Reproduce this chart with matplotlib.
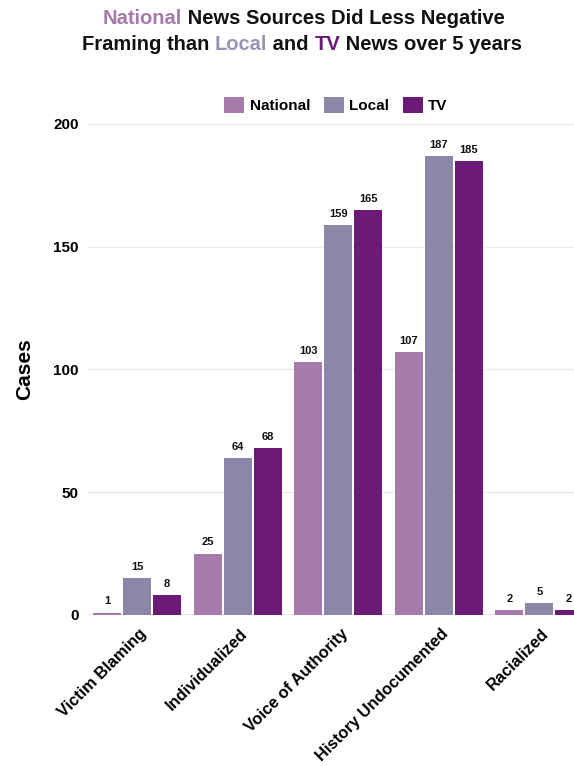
import matplotlib
matplotlib.use("Agg")
import matplotlib.pyplot as plt
import numpy as np

plt.rcParams['font.family'] = ['Liberation Sans', 'DejaVu Sans']

categories = ["Victim Blaming", "Individualized", "Voice of Authority",
              "History Undocumented", "Racialized"]
series_names = ["National", "Local", "TV"]
national = [1, 25, 103, 107, 2]
local = [15, 64, 159, 187, 5]
tv = [8, 68, 165, 185, 2]
yticks = [0, 50, 100, 150, 200]

colors = ["#a67bab", "#8c87a8", "#6b1a75"]
title_gray = "#9a94b4"

fig = plt.figure(figsize=(5.74, 7.66), dpi=100)
W, H = 574, 766
ax = fig.add_axes([87 / W, 151 / H, 502.5 / W, 491 / H])

x = np.arange(len(categories))
step = 0.2985
bw = 0.279
for i, (vals, col, name) in enumerate(zip([national, local, tv], colors, series_names)):
    pos = x + (i - 1) * step
    bars = ax.bar(pos, vals, width=bw, color=col, label=name, zorder=3)
    for b, v in zip(bars, vals):
        ax.text(b.get_x() + b.get_width() / 2, v + 2.5, str(v), ha='center', va='bottom',
                fontsize=8, fontweight='bold', color='#111111', zorder=4)

ax.set_xlim(-0.5, 4.5)
ax.set_ylim(0, 200)
ax.set_yticks(yticks)
ax.set_yticklabels([str(t) for t in yticks], fontsize=11, fontweight='bold')
ax.yaxis.grid(True, color='#ebebeb', linewidth=1, zorder=0)
ax.axhline(0, color='#9a9a9a', linewidth=1, zorder=2)
ax.tick_params(axis='y', length=0, pad=6)
ax.tick_params(axis='x', length=0, pad=6)
for s in ax.spines.values():
    s.set_visible(False)

ax.set_xticks(x)
ax.set_xticklabels(categories, rotation=45, ha='right', rotation_mode='anchor',
                   fontsize=11.8, fontweight='bold')
for lbl in ax.get_xticklabels():
    lbl.set_transform(lbl.get_transform() + matplotlib.transforms.ScaledTranslation(2 / 100, -3 / 100, fig.dpi_scale_trans))

ax.set_ylabel("Cases", fontsize=15, fontweight='bold', labelpad=14)

leg = fig.legend(loc='center', bbox_to_anchor=(336 / W, 1 - 105 / H), ncol=3, frameon=False,
                 prop={'weight': 'bold', 'size': 11}, handlelength=1.3, handleheight=1.3,
                 handletextpad=0.35, columnspacing=0.9)

# Title with coloured words, drawn piece by piece
fig.canvas.draw()
renderer = fig.canvas.get_renderer()


def colored_line(pieces, y_px, center_px, size=14.5):
    texts = []
    for s, c in pieces:
        t = fig.text(0, 1 - y_px / H, s, color=c, fontsize=size, fontweight='bold',
                     ha='left', va='center')
        texts.append(t)
    widths = [t.get_window_extent(renderer).width for t in texts]
    total = sum(widths)
    xpos = center_px - total / 2
    for t, w in zip(texts, widths):
        t.set_x(xpos / W)
        xpos += w


colored_line([("National", colors[0]), (" News Sources Did Less Negative", "#111111")], 18, 304)
colored_line([("Framing than ", "#111111"), ("Local", title_gray), (" and ", "#111111"),
              ("TV", colors[2]), (" News over 5 years", "#111111")], 45, 302)

fig.savefig("out.png", dpi=100)
